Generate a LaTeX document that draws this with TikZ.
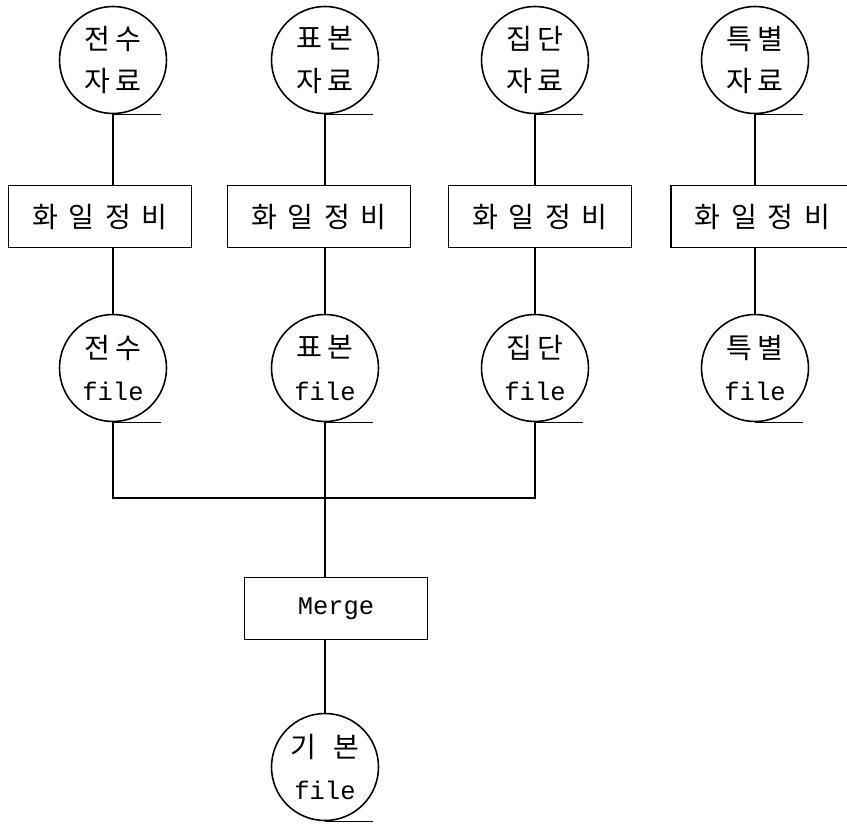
\documentclass[tikz,border=0pt]{standalone}
\usepackage{fontspec}
\setmonofont{Liberation Mono}
\newfontfamily\hangul{Noto Sans CJK KR}
\newcommand{\gap}{\hspace{6pt}}

\begin{document}
\begin{tikzpicture}[line width=0.9pt,
	tape/.style={circle, draw, inner sep=0pt, minimum size=2.14cm, align=center,
		font=\hangul\fontsize{16}{24}\selectfont},
	job/.style={rectangle, draw, minimum width=3.66cm, minimum height=1.24cm,
		font=\hangul\fontsize{16}{18}\selectfont}]
	\useasboundingbox (0,0) rectangle (16.94,-16.48);
	\clip (0,0) rectangle (16.94,-16.48);
	
	% source data
	\node[tape] (s1) at (2.26,-1.2) {전\,수\\자\,료};
	\node[tape] (s2) at (6.5,-1.2) {표\,본\\자\,료};
	\node[tape] (s3) at (10.7,-1.2) {집\,단\\자\,료};
	\node[tape] (s4) at (15.1,-1.2) {특\,별\\자\,료};
	
	% file preparation
	\node[job] (p1) at (2.0,-4.33) {화\gap 일\gap 정\gap 비};
	\node[job] (p2) at (6.38,-4.33) {화\gap 일\gap 정\gap 비};
	\node[job] (p3) at (10.8,-4.33) {화\gap 일\gap 정\gap 비};
	\node[job] (p4) at (15.25,-4.33) {화\gap 일\gap 정\gap 비};
	
	% prepared files
	\node[tape] (f1) at (2.26,-7.36) {전\,수\\{\ttfamily\fontsize{14.5}{24}\selectfont file}};
	\node[tape] (f2) at (6.5,-7.36) {표\,본\\{\ttfamily\fontsize{14.5}{24}\selectfont file}};
	\node[tape] (f3) at (10.7,-7.36) {집\,단\\{\ttfamily\fontsize{14.5}{24}\selectfont file}};
	\node[tape] (f4) at (15.1,-7.36) {특\,별\\{\ttfamily\fontsize{14.5}{24}\selectfont file}};
	
	\node[job, font=\ttfamily\fontsize{14.5}{18}\selectfont] (mg) at (6.72,-12.17) {Merge};
	\node[tape] (base) at (6.5,-15.34) {기\hspace{0.6em}본\\{\ttfamily\fontsize{14.5}{24}\selectfont file}};
	
	\coordinate (join) at (6.5,-9.96);
	
	% tape tails
	\foreach \n in {s1,s2,s3,s4,f1,f2,f3,f4,base}
		\draw (\n.south) -- ++(0.96,0);
	
	\foreach \i in {1,...,4} {
		\draw (s\i.south) -- (s\i.south |- p\i.north);
		\draw (f\i.north) -- (f\i.north |- p\i.south);
	}
	
	\draw (f1.south) |- (join) -| (f3.south);
	\draw (f2.south) -- (join) -- (join |- mg.north);
	\draw (mg.south -| base.north) -- (base.north);
\end{tikzpicture}
\end{document}
